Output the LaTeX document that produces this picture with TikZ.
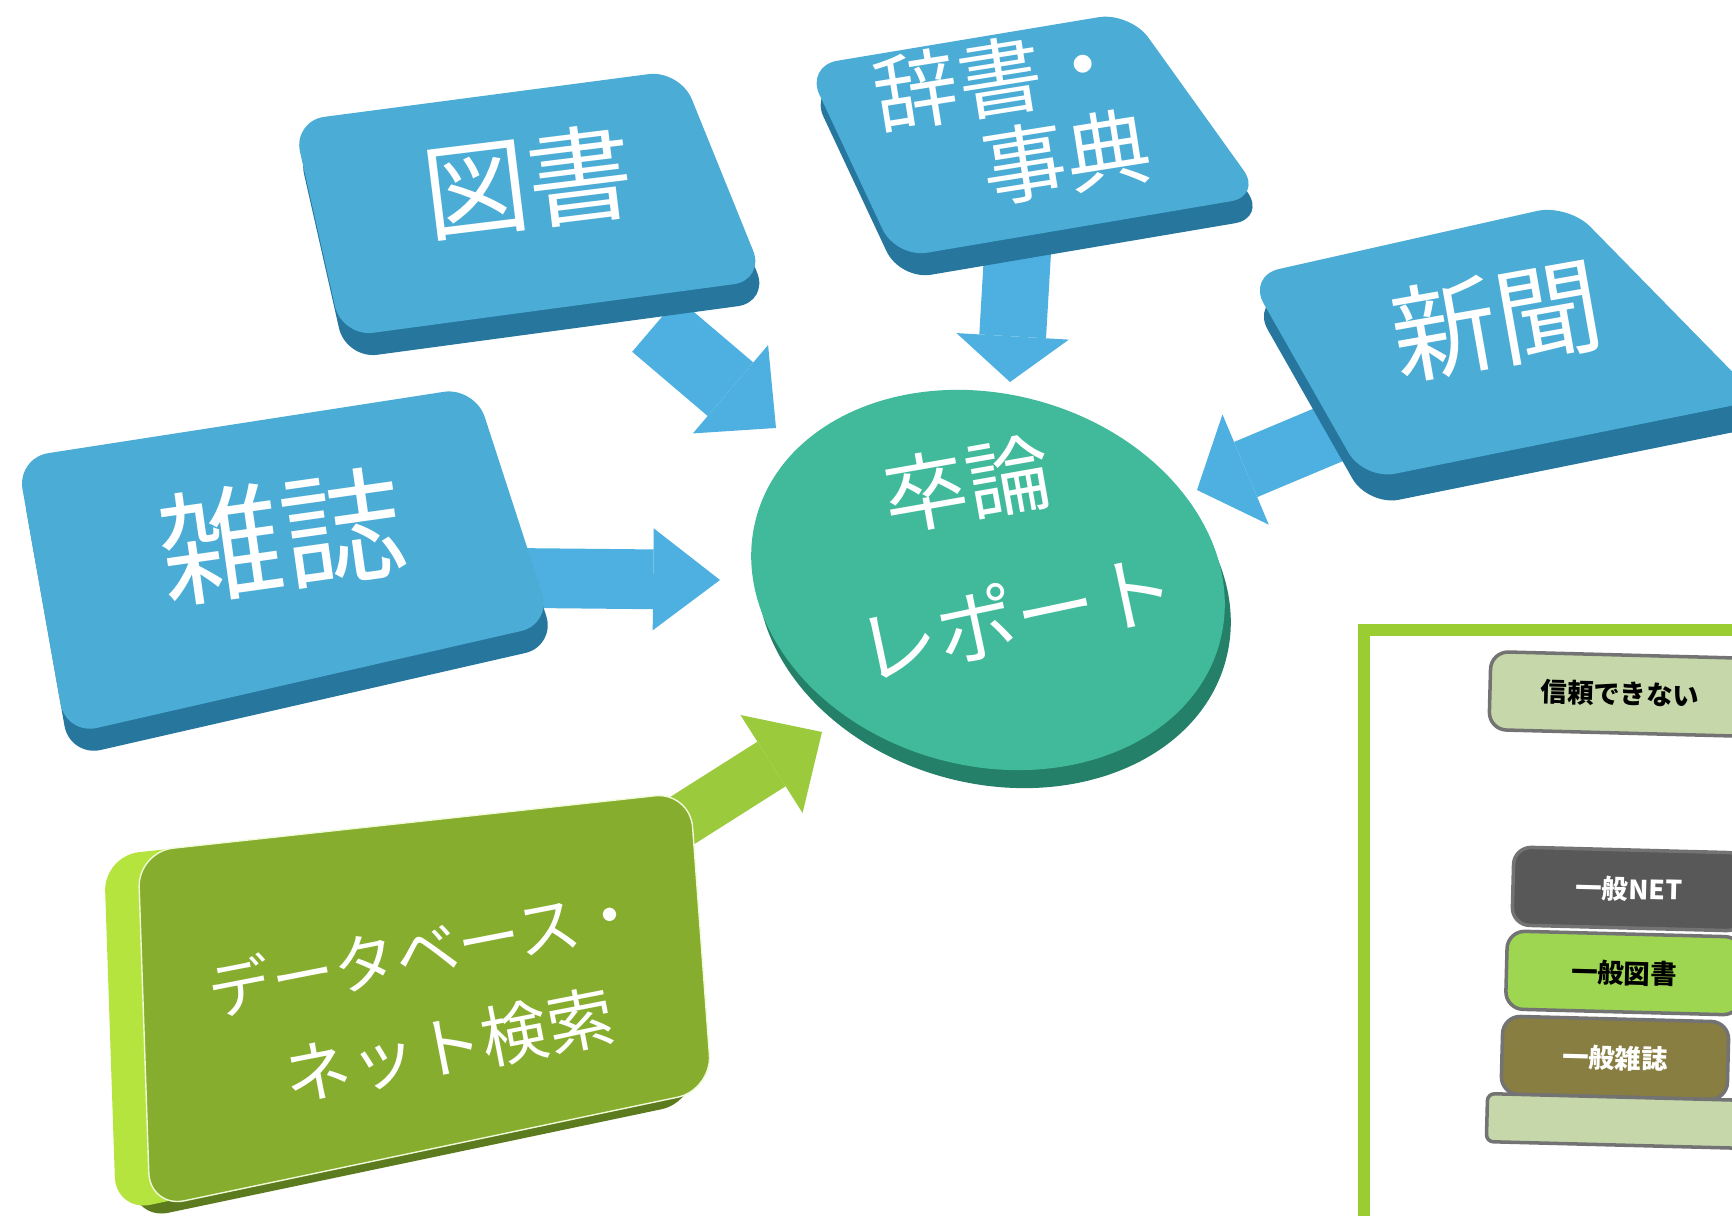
\documentclass[tikz,border=0pt]{standalone}
\usepackage{fontspec}
\newfontfamily\cjk{Noto Sans CJK JP}
\usetikzlibrary{arrows.meta}

\definecolor{tileblue}{RGB}{75,172,214}
\definecolor{tiledark}{RGB}{38,118,158}
\definecolor{arrowblue}{RGB}{78,176,224}
\definecolor{discteal}{RGB}{64,186,155}
\definecolor{discdark}{RGB}{36,128,104}
\definecolor{dbgreen}{RGB}{134,173,45}
\definecolor{dblime}{RGB}{182,228,62}
\definecolor{dbdark}{RGB}{92,122,30}
\definecolor{arrowgreen}{RGB}{155,202,60}
\definecolor{framegreen}{RGB}{154,205,50}
\definecolor{paleleaf}{RGB}{198,216,170}
\definecolor{netgray}{RGB}{88,88,88}
\definecolor{bookgreen}{RGB}{158,214,82}
\definecolor{magolive}{RGB}{136,126,66}

\begin{document}
\begin{tikzpicture}[x=0.01cm, y=-0.01cm,
    tiletop/.style={fill=tileblue, rounded corners=9pt},
    tileside/.style={fill=tiledark, rounded corners=9pt},
    tiletext/.style={text=white, inner sep=0pt, font=\cjk\fontsize{#1}{#1}\selectfont},
    feed/.style={draw=arrowblue, line width=#1, line cap=butt},
    shelf/.style={draw=black!55, line width=1pt, rounded corners=5pt, inner sep=0pt,
                  minimum height=0.78cm, rotate=-1.5, font=\cjk\bfseries\fontsize{7.5}{9}\selectfont}]
\useasboundingbox (0,0) rectangle (1732,1216);
\clip (0,0) rectangle (1732,1216);

%% arrows first, the tiles hide their tails
\coordinate (tosho-tail) at (655,325);
\coordinate (tosho-tip) at (776,428);
\coordinate (jisho-tail) at (1018,245);
\coordinate (jisho-tip) at (1010,382);
\coordinate (shinbun-tail) at (1335,432);
\coordinate (shinbun-tip) at (1197,490);
\coordinate (zasshi-tail) at (520,578);
\coordinate (zasshi-tip) at (720,580);
\coordinate (db-tail) at (680,822);
\coordinate (db-tip) at (822,732);
\draw[feed=20pt, -{Triangle[length=17pt, width=33pt, line width=0pt]}] (tosho-tail) -- (tosho-tip);
\draw[feed=19pt, -{Triangle[length=13pt, width=32pt, line width=0pt]}] (jisho-tail) -- (jisho-tip);
\draw[feed=17pt, -{Triangle[length=15pt, width=34pt, line width=0pt]}] (shinbun-tail) -- (shinbun-tip);
\draw[feed=17pt, -{Triangle[length=19pt, width=29pt, line width=0pt]}] (zasshi-tail) -- (zasshi-tip);
\draw[feed=15pt, draw=arrowgreen, -{Triangle[length=17pt, width=33pt, line width=0pt]}] (db-tail) -- (db-tip);

%% blue tiles
\fill[tileside, shift={(4,22)}] (293,121) -- (680,70) -- (765,280) -- (342,337) -- cycle;
\fill[tiletop] (293,121) -- (680,70) -- (765,280) -- (342,337) -- cycle;
\fill[tileside, shift={(4,22)}] (806,66) -- (1130,12) -- (1262,196) -- (896,258) -- cycle;
\fill[tiletop] (806,66) -- (1130,12) -- (1262,196) -- (896,258) -- cycle;
\fill[tileside, shift={(4,26)}] (1248,276) -- (1568,204) -- (1760,400) -- (1364,480) -- cycle;
\fill[tiletop] (1248,276) -- (1568,204) -- (1760,400) -- (1364,480) -- cycle;
\fill[tileside, shift={(4,22)}] (17,458) -- (475,387) -- (552,624) -- (66,735) -- cycle;
\fill[tiletop] (17,458) -- (475,387) -- (552,624) -- (66,735) -- cycle;

%% database tile
\fill[dbdark, rounded corners=10pt, shift={(-16,12)}] (138,852) -- (690,792) -- (712,1090) -- (150,1208) -- cycle;
\fill[dblime, rounded corners=10pt, shift={(-34,4)}] (138,852) -- (690,792) -- (712,1090) -- (150,1208) -- cycle;
\fill[dbgreen, draw=white!80!dblime, rounded corners=10pt] (138,852) -- (690,792) -- (712,1090) -- (150,1208) -- cycle;

%% the disc
\fill[discdark, rotate around={-15:(994,598)}] (994,598) ellipse (240 and 186);
\fill[discteal, rotate around={-15:(988,580)}] (988,580) ellipse (240 and 186);

%% texts
\node[tiletext=30, rotate=7] (tosho) at (528,182) {図書};
\node[tiletext=24, rotate=9] (jisho1) at (1000,77) {辞書・};
\node[tiletext=24, rotate=9] (jisho2) at (1066,157) {事典};
\node[tiletext=30, rotate=10] (shinbun) at (1497,320) {新聞};
\node[tiletext=35, rotate=8] (zasshi) at (282,536) {雑誌};
\node[tiletext=24, rotate=10] (sotsuron1) at (967,484) {卒論};
\node[tiletext=23, rotate=12] (sotsuron2) at (1016,616) {レポート};
\node[tiletext=18, rotate=11] (db1) at (425,950) {データベース・};
\node[tiletext=19, rotate=11] (db2) at (449,1046) {ネット検索};

%% the panel on the right
\draw[framegreen, line width=0.12cm] (1364,630) rectangle (1790,1260);
\node[shelf, fill=paleleaf, minimum width=2.6cm] (shinrai) at (1620,694) {信頼できない};
\node[shelf, fill=netgray, text=white, minimum width=2.32cm] (net) at (1629,889) {一般NET};
\node[shelf, fill=bookgreen, minimum width=2.35cm] (ippantosho) at (1624,973) {一般図書};
\node[shelf, fill=magolive, text=white, minimum width=2.26cm] (ippanzasshi) at (1615,1058) {一般雑誌};
\node[shelf, fill=paleleaf, minimum width=2.58cm, minimum height=0.48cm, rounded corners=2pt] (base) at (1616,1121) {};
\end{tikzpicture}
\end{document}
